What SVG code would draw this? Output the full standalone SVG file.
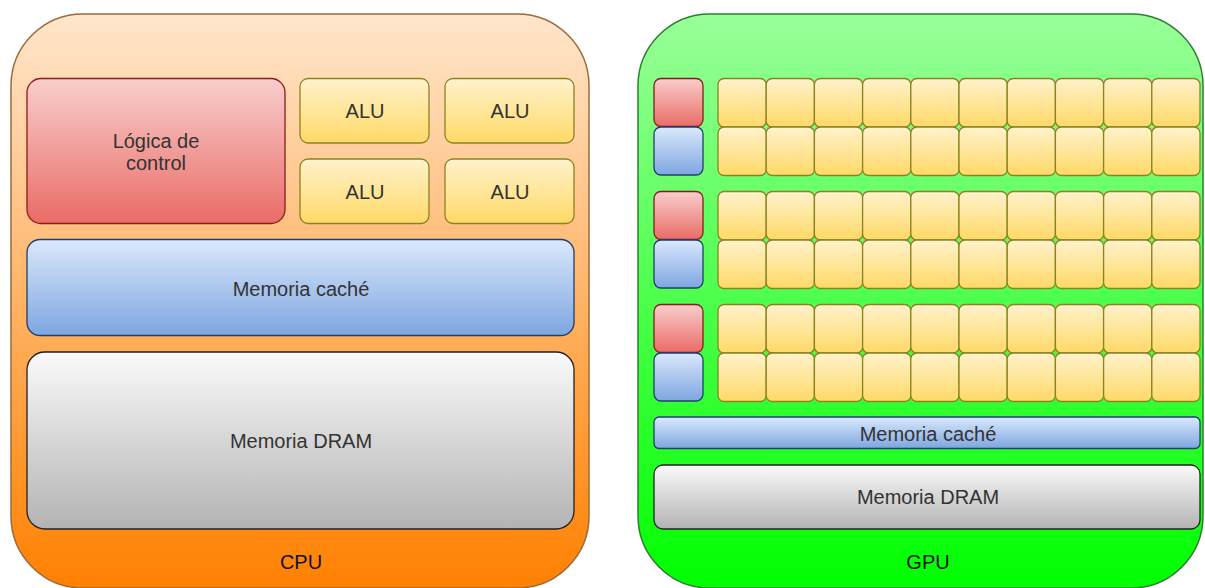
<svg xmlns="http://www.w3.org/2000/svg" width="1205" height="588" viewBox="0 0 1205 588">
  <defs>
    <linearGradient id="gCpu" x1="0" y1="0" x2="0" y2="1">
      <stop offset="0" stop-color="#FFE6CC"/>
      <stop offset="1" stop-color="#FF8000"/>
    </linearGradient>
    <linearGradient id="gGpu" x1="0" y1="0" x2="0" y2="1">
      <stop offset="0" stop-color="#99FF99"/>
      <stop offset="1" stop-color="#00FF00"/>
    </linearGradient>
    <linearGradient id="gRed" x1="0" y1="0" x2="0" y2="1">
      <stop offset="0" stop-color="#F8CECC"/>
      <stop offset="1" stop-color="#EA6B66"/>
    </linearGradient>
    <linearGradient id="gYellow" x1="0" y1="0" x2="0" y2="1">
      <stop offset="0" stop-color="#FFF2CC"/>
      <stop offset="1" stop-color="#FFD966"/>
    </linearGradient>
    <linearGradient id="gBlue" x1="0" y1="0" x2="0" y2="1">
      <stop offset="0" stop-color="#DAE8FC"/>
      <stop offset="1" stop-color="#7EA6E0"/>
    </linearGradient>
    <linearGradient id="gGray" x1="0" y1="0" x2="0" y2="1">
      <stop offset="0" stop-color="#FAFAFA"/>
      <stop offset="1" stop-color="#B3B3B3"/>
    </linearGradient>
  </defs>
  <style>
    .cpu { fill: url(#gCpu); stroke: #9C6A3A; stroke-width: 1.5; }
    .gpu { fill: url(#gGpu); stroke: #2E7D32; stroke-width: 1.5; }
    .ctl { fill: url(#gRed); stroke: #8C1A1A; stroke-width: 1.3; }
    .alu { fill: url(#gYellow); stroke: #8A8420; stroke-width: 1.3; }
    .mem { fill: url(#gBlue); stroke: #1F3F70; stroke-width: 1.3; }
    .ram { fill: url(#gGray); stroke: #222222; stroke-width: 1.3; }
    .lbl { font-family: "Liberation Sans", Arial, sans-serif; font-size: 20px; fill: #333333; text-anchor: middle; dominant-baseline: central; }
    .ttl { font-family: "Liberation Sans", Arial, sans-serif; font-size: 20px; fill: #111111; text-anchor: middle; dominant-baseline: central; }
  </style>

  <!-- CPU -->
  <g id="cpu">
    <rect class="cpu" x="11" y="14" width="578" height="574" rx="72" ry="72"/>
    <text class="ttl" x="301" y="562">CPU</text>
  </g>
  <g id="cpu-control">
    <rect class="ctl" x="27" y="78.5" width="258" height="145" rx="14"/>
    <text class="lbl" x="156" y="141">Lógica de</text>
    <text class="lbl" x="156" y="163">control</text>
  </g>
  <g id="cpu-alu-1">
    <rect class="alu" x="300" y="78.5" width="129" height="64.5" rx="8"/>
    <text class="lbl" x="365" y="111">ALU</text>
  </g>
  <g id="cpu-alu-2">
    <rect class="alu" x="445" y="78.5" width="129" height="64.5" rx="8"/>
    <text class="lbl" x="510" y="111">ALU</text>
  </g>
  <g id="cpu-alu-3">
    <rect class="alu" x="300" y="159" width="129" height="64.5" rx="8"/>
    <text class="lbl" x="365" y="192">ALU</text>
  </g>
  <g id="cpu-alu-4">
    <rect class="alu" x="445" y="159" width="129" height="64.5" rx="8"/>
    <text class="lbl" x="510" y="192">ALU</text>
  </g>
  <g id="cpu-cache">
    <rect class="mem" x="27" y="239.5" width="547" height="96" rx="13"/>
    <text class="lbl" x="301" y="289">Memoria caché</text>
  </g>
  <g id="cpu-dram">
    <rect class="ram" x="27" y="352" width="547" height="177" rx="18"/>
    <text class="lbl" x="301" y="441">Memoria DRAM</text>
  </g>

  <!-- GPU -->
  <g id="gpu">
    <rect class="gpu" x="638" y="14" width="565" height="574" rx="72" ry="72"/>
    <text class="ttl" x="928" y="562">GPU</text>
  </g>

  <!-- GPU block 1 -->
  <g id="gpu-block-1">
    <rect class="ctl" x="654" y="78.5" width="49" height="48" rx="7"/>
    <rect class="mem" x="654" y="127" width="49" height="48" rx="7"/>
    <rect class="alu" x="718" y="78.5" width="48.2" height="48.5" rx="6"/>
    <rect class="alu" x="766.2" y="78.5" width="48.2" height="48.5" rx="6"/>
    <rect class="alu" x="814.4" y="78.5" width="48.2" height="48.5" rx="6"/>
    <rect class="alu" x="862.6" y="78.5" width="48.2" height="48.5" rx="6"/>
    <rect class="alu" x="910.8" y="78.5" width="48.2" height="48.5" rx="6"/>
    <rect class="alu" x="959" y="78.5" width="48.2" height="48.5" rx="6"/>
    <rect class="alu" x="1007.2" y="78.5" width="48.2" height="48.5" rx="6"/>
    <rect class="alu" x="1055.4" y="78.5" width="48.2" height="48.5" rx="6"/>
    <rect class="alu" x="1103.6" y="78.5" width="48.2" height="48.5" rx="6"/>
    <rect class="alu" x="1151.8" y="78.5" width="48.2" height="48.5" rx="6"/>
    <rect class="alu" x="718" y="127" width="48.2" height="48.5" rx="6"/>
    <rect class="alu" x="766.2" y="127" width="48.2" height="48.5" rx="6"/>
    <rect class="alu" x="814.4" y="127" width="48.2" height="48.5" rx="6"/>
    <rect class="alu" x="862.6" y="127" width="48.2" height="48.5" rx="6"/>
    <rect class="alu" x="910.8" y="127" width="48.2" height="48.5" rx="6"/>
    <rect class="alu" x="959" y="127" width="48.2" height="48.5" rx="6"/>
    <rect class="alu" x="1007.2" y="127" width="48.2" height="48.5" rx="6"/>
    <rect class="alu" x="1055.4" y="127" width="48.2" height="48.5" rx="6"/>
    <rect class="alu" x="1103.6" y="127" width="48.2" height="48.5" rx="6"/>
    <rect class="alu" x="1151.8" y="127" width="48.2" height="48.5" rx="6"/>
  </g>

  <!-- GPU block 2 -->
  <g id="gpu-block-2">
    <rect class="ctl" x="654" y="191.5" width="49" height="48" rx="7"/>
    <rect class="mem" x="654" y="240" width="49" height="48" rx="7"/>
    <rect class="alu" x="718" y="191.5" width="48.2" height="48.5" rx="6"/>
    <rect class="alu" x="766.2" y="191.5" width="48.2" height="48.5" rx="6"/>
    <rect class="alu" x="814.4" y="191.5" width="48.2" height="48.5" rx="6"/>
    <rect class="alu" x="862.6" y="191.5" width="48.2" height="48.5" rx="6"/>
    <rect class="alu" x="910.8" y="191.5" width="48.2" height="48.5" rx="6"/>
    <rect class="alu" x="959" y="191.5" width="48.2" height="48.5" rx="6"/>
    <rect class="alu" x="1007.2" y="191.5" width="48.2" height="48.5" rx="6"/>
    <rect class="alu" x="1055.4" y="191.5" width="48.2" height="48.5" rx="6"/>
    <rect class="alu" x="1103.6" y="191.5" width="48.2" height="48.5" rx="6"/>
    <rect class="alu" x="1151.8" y="191.5" width="48.2" height="48.5" rx="6"/>
    <rect class="alu" x="718" y="240" width="48.2" height="48.5" rx="6"/>
    <rect class="alu" x="766.2" y="240" width="48.2" height="48.5" rx="6"/>
    <rect class="alu" x="814.4" y="240" width="48.2" height="48.5" rx="6"/>
    <rect class="alu" x="862.6" y="240" width="48.2" height="48.5" rx="6"/>
    <rect class="alu" x="910.8" y="240" width="48.2" height="48.5" rx="6"/>
    <rect class="alu" x="959" y="240" width="48.2" height="48.5" rx="6"/>
    <rect class="alu" x="1007.2" y="240" width="48.2" height="48.5" rx="6"/>
    <rect class="alu" x="1055.4" y="240" width="48.2" height="48.5" rx="6"/>
    <rect class="alu" x="1103.6" y="240" width="48.2" height="48.5" rx="6"/>
    <rect class="alu" x="1151.8" y="240" width="48.2" height="48.5" rx="6"/>
  </g>

  <!-- GPU block 3 -->
  <g id="gpu-block-3">
    <rect class="ctl" x="654" y="304.5" width="49" height="48" rx="7"/>
    <rect class="mem" x="654" y="353" width="49" height="48" rx="7"/>
    <rect class="alu" x="718" y="304.5" width="48.2" height="48.5" rx="6"/>
    <rect class="alu" x="766.2" y="304.5" width="48.2" height="48.5" rx="6"/>
    <rect class="alu" x="814.4" y="304.5" width="48.2" height="48.5" rx="6"/>
    <rect class="alu" x="862.6" y="304.5" width="48.2" height="48.5" rx="6"/>
    <rect class="alu" x="910.8" y="304.5" width="48.2" height="48.5" rx="6"/>
    <rect class="alu" x="959" y="304.5" width="48.2" height="48.5" rx="6"/>
    <rect class="alu" x="1007.2" y="304.5" width="48.2" height="48.5" rx="6"/>
    <rect class="alu" x="1055.4" y="304.5" width="48.2" height="48.5" rx="6"/>
    <rect class="alu" x="1103.6" y="304.5" width="48.2" height="48.5" rx="6"/>
    <rect class="alu" x="1151.8" y="304.5" width="48.2" height="48.5" rx="6"/>
    <rect class="alu" x="718" y="353" width="48.2" height="48.5" rx="6"/>
    <rect class="alu" x="766.2" y="353" width="48.2" height="48.5" rx="6"/>
    <rect class="alu" x="814.4" y="353" width="48.2" height="48.5" rx="6"/>
    <rect class="alu" x="862.6" y="353" width="48.2" height="48.5" rx="6"/>
    <rect class="alu" x="910.8" y="353" width="48.2" height="48.5" rx="6"/>
    <rect class="alu" x="959" y="353" width="48.2" height="48.5" rx="6"/>
    <rect class="alu" x="1007.2" y="353" width="48.2" height="48.5" rx="6"/>
    <rect class="alu" x="1055.4" y="353" width="48.2" height="48.5" rx="6"/>
    <rect class="alu" x="1103.6" y="353" width="48.2" height="48.5" rx="6"/>
    <rect class="alu" x="1151.8" y="353" width="48.2" height="48.5" rx="6"/>
  </g>

  <g id="gpu-cache">
    <rect class="mem" x="654" y="417" width="546" height="31.5" rx="5"/>
    <text class="lbl" x="928" y="433.5">Memoria caché</text>
  </g>
  <g id="gpu-dram">
    <rect class="ram" x="654" y="465" width="546" height="64" rx="9"/>
    <text class="lbl" x="928" y="497">Memoria DRAM</text>
  </g>
</svg>
